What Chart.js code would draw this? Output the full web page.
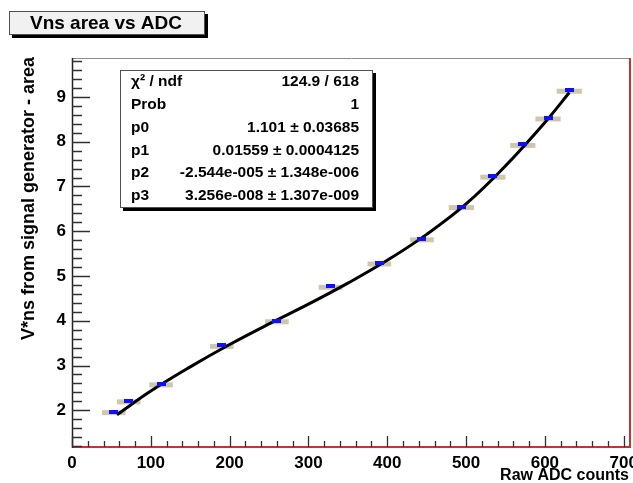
<!DOCTYPE html>
<html>
<head>
<meta charset="utf-8">
<script src="https://cdn.jsdelivr.net/npm/chart.js@4.4.1/dist/chart.umd.min.js"></script>
<style>
html, body { margin: 0; padding: 0; background: #ffffff; }
#wrap { width: 633px; height: 483px; }
</style>
</head>
<body>
<div id="wrap"><canvas id="c" width="633" height="483"></canvas></div>
<script>
// measured points: raw ADC counts vs V*ns area
const adcCounts = [53, 72, 113, 190, 260, 328, 390, 444, 494, 534, 572, 604, 631];
const vnsArea   = [1.97, 2.21, 2.59, 3.45, 4.00, 4.77, 5.29, 5.83, 6.55, 7.23, 7.94, 8.53, 9.15];
const adcErr    = [15, 15, 15, 15, 15, 15, 15, 15, 16, 16, 16, 16, 16];

// cubic fit curve, sampled along the drawn line
const fitAdc  = [57, 100, 150, 200, 250, 300, 350, 400, 450, 500, 550, 600, 631];
const fitArea = [1.90, 2.43, 2.97, 3.47, 3.93, 4.37, 4.84, 5.35, 5.93, 6.61, 7.46, 8.43, 9.10];

const xTicks = [0, 100, 200, 300, 400, 500, 600, 700];
const yTicks = [2, 3, 4, 5, 6, 7, 8, 9];

const statNames  = ['χ² / ndf', 'Prob', 'p0', 'p1', 'p2', 'p3'];
const statValues = ['124.9 / 618', '1', '1.101 ± 0.03685', '0.01559 ± 0.0004125',
                    '-2.544e-005 ± 1.348e-006', '3.256e-008 ± 1.307e-009'];

const FONT = '"Liberation Sans", Arial, Helvetica, sans-serif';
const FRAME_RIGHT = 631;   // outer frame edge; the x scale itself stops a few px short

// small flat blue marker
const marker = document.createElement('canvas');
marker.width = 9; marker.height = 4;
(function () {
    const m = marker.getContext('2d');
    m.fillStyle = '#1010ff';
    m.fillRect(0, 0, 9, 4);
})();

const decor = {
    id: 'decor',
    beforeDatasetsDraw(chart) {
        const { ctx, scales: { x, y } } = chart;
        ctx.save();
        // x error bars
        ctx.fillStyle = '#cec7ab';
        adcCounts.forEach((v, i) => {
            const x0 = x.getPixelForValue(v - adcErr[i]);
            const x1 = x.getPixelForValue(v + adcErr[i]);
            const py = y.getPixelForValue(vnsArea[i]);
            ctx.fillRect(x0, py - 1.5, x1 - x0, 5);
        });
        ctx.restore();
    },
    afterDraw(chart) {
        const { ctx, chartArea: a, scales: { x, y } } = chart;
        const right = FRAME_RIGHT;
        ctx.save();

        // frame
        ctx.lineWidth = 1;
        ctx.strokeStyle = '#8c8c8c';
        ctx.beginPath(); ctx.moveTo(a.left, a.top + 0.5); ctx.lineTo(right, a.top + 0.5); ctx.stroke();
        ctx.strokeStyle = '#c83232';
        ctx.lineWidth = 2;
        ctx.beginPath(); ctx.moveTo(right - 1, a.top); ctx.lineTo(right - 1, a.bottom); ctx.stroke();
        ctx.beginPath(); ctx.moveTo(a.left, a.bottom); ctx.lineTo(right, a.bottom); ctx.stroke();
        ctx.strokeStyle = '#202020';
        ctx.lineWidth = 1.5;
        ctx.beginPath(); ctx.moveTo(a.left + 0.5, a.top); ctx.lineTo(a.left + 0.5, a.bottom + 1); ctx.stroke();

        // ticks drawn inward
        ctx.strokeStyle = '#303030';
        ctx.lineWidth = 1.3;
        ctx.beginPath();
        for (let v = 0; v <= 700; v += 20) {
            const px = Math.round(x.getPixelForValue(v)) + 0.5;
            const len = v % 100 === 0 ? 11 : 6;
            ctx.moveTo(px, a.bottom);
            ctx.lineTo(px, a.bottom - len);
        }
        for (let k = Math.ceil(y.min * 5); k <= Math.floor(y.max * 5); k++) {
            const py = Math.round(y.getPixelForValue(k / 5)) + 0.5;
            const len = k % 5 === 0 ? 18 : 10;
            ctx.moveTo(a.left, py);
            ctx.lineTo(a.left + len, py);
        }
        ctx.stroke();

        // axis titles
        ctx.fillStyle = '#000';
        ctx.font = 'bold 16px ' + FONT;
        ctx.textAlign = 'right';
        ctx.textBaseline = 'middle';
        ctx.fillText('Raw ADC counts', 629, 476);
        ctx.save();
        ctx.translate(29, 57);
        ctx.rotate(-Math.PI / 2);
        ctx.font = 'bold 18px ' + FONT;
        ctx.fillText('V*ns from signal generator - area', 0, 0);
        ctx.restore();

        // title box
        ctx.fillStyle = '#000';
        ctx.fillRect(12, 14, 196, 24);
        ctx.fillStyle = '#f1f1f1';
        ctx.fillRect(9, 11, 196, 24);
        ctx.strokeStyle = '#505050';
        ctx.lineWidth = 1;
        ctx.strokeRect(9.5, 11.5, 195, 23);
        ctx.fillStyle = '#000';
        ctx.font = 'bold 19px ' + FONT;
        ctx.textAlign = 'center';
        ctx.fillText('Vns area vs ADC', 106, 23.5);

        // fit statistics box
        ctx.fillStyle = '#000';
        ctx.fillRect(123, 73, 253, 138);
        ctx.fillStyle = '#fff';
        ctx.fillRect(120, 70, 253, 138);
        ctx.strokeStyle = '#505050';
        ctx.strokeRect(120.5, 70.5, 252, 137);
        ctx.fillStyle = '#000';
        ctx.font = 'bold 15.5px ' + FONT;
        statNames.forEach((name, i) => {
            const ty = 82 + i * 22.8;
            ctx.textAlign = 'left';
            ctx.fillText(name, 131, ty);
            ctx.textAlign = 'right';
            ctx.fillText(statValues[i], 359, ty);
        });

        ctx.restore();
    }
};

const points = adcCounts.map((v, i) => ({ x: v, y: vnsArea[i] }));
const fitLine = fitAdc.map((v, i) => ({ x: v, y: fitArea[i] }));

new Chart(document.getElementById('c'), {
    type: 'scatter',
    data: {
        datasets: [
            {
                label: 'data',
                data: points,
                pointStyle: marker,
                pointRadius: 5,
                clip: false,
                order: 0
            },
            {
                label: 'fit',
                type: 'line',
                data: fitLine,
                showLine: true,
                borderColor: '#000',
                borderWidth: 3,
                pointRadius: 0,
                tension: 0.4,
                clip: false,
                order: 1
            }
        ]
    },
    options: {
        responsive: false,
        animation: false,
        devicePixelRatio: 1,
        layout: { padding: { top: 58, right: 2, bottom: 0, left: 0 } },
        plugins: {
            legend: { display: false },
            tooltip: { enabled: false },
            title: { display: false }
        },
        scales: {
            x: {
                type: 'linear',
                min: 0,
                max: 704.2,
                grid: { display: false, drawTicks: false },
                border: { display: false },
                afterBuildTicks: s => { s.ticks = xTicks.map(v => ({ value: v })); },
                afterFit: s => { s.height = 36; s.paddingLeft = 0; s.paddingRight = 0; },
                ticks: {
                    color: '#000',
                    padding: 6,
                    maxRotation: 0,
                    autoSkip: false,
                    font: { family: FONT, size: 17, weight: 'bold' }
                }
            },
            y: {
                type: 'linear',
                min: 1.18,
                max: 9.87,
                grid: { display: false, drawTicks: false },
                border: { display: false },
                afterBuildTicks: s => { s.ticks = yTicks.map(v => ({ value: v })); },
                afterFit: s => { s.width = 72; s.paddingTop = 0; s.paddingBottom = 0; },
                ticks: {
                    color: '#000',
                    padding: 6,
                    font: { family: FONT, size: 17, weight: 'bold' }
                }
            }
        }
    },
    plugins: [decor]
});
</script>
</body>
</html>
